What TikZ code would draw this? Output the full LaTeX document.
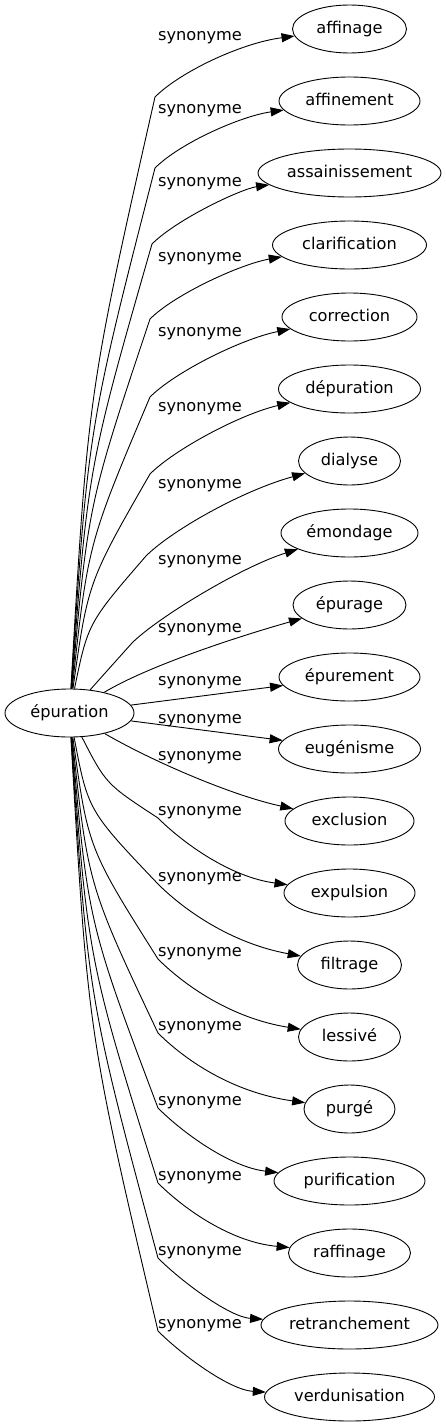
\documentclass[tikz,border=0pt]{standalone}
\usepackage{fontspec}
\setmainfont{DejaVu Sans}
\usetikzlibrary{arrows.meta, shapes.geometric}
\tikzset{>={Triangle[length=13pt, width=9pt]},
  mot/.style={draw, ellipse, line width=0.9pt, inner sep=0pt, minimum height=48pt,
    text height=12pt, text depth=4pt, font=\fontsize{16.2}{19}\selectfont},
  syn/.style={inner sep=0pt, font=\fontsize{16.2}{19}\selectfont},
  lien/.style={->, line width=0.9pt}}

\begin{document}
\begin{tikzpicture}[x=1pt, y=-1pt]
\useasboundingbox (0,0) rectangle (446,1427);
\node[mot, minimum width=129pt] (epuration) at (69.5,713) {épuration};

\node[mot, minimum width=114pt] (affinage) at (349.5,29) {affinage};
\node[mot, minimum width=141pt] (affinement) at (349.5,101) {affinement};
\node[mot, minimum width=183pt] (assainissement) at (349.5,173) {assainissement};
\node[mot, minimum width=154pt] (clarification) at (349.5,245) {clarification};
\node[mot, minimum width=135pt] (correction) at (349.5,317) {correction};
\node[mot, minimum width=142pt] (depuration) at (349.5,389) {dépuration};
\node[mot, minimum width=102pt] (dialyse) at (349.5,461) {dialyse};
\node[mot, minimum width=137pt] (emondage) at (349.5,533) {émondage};
\node[mot, minimum width=113pt] (epurage) at (349.5,605) {épurage};
\node[mot, minimum width=141pt] (epurement) at (349.5,677) {épurement};
\node[mot, minimum width=142pt] (eugenisme) at (349.5,749) {eugénisme};
\node[mot, minimum width=129pt] (exclusion) at (349.5,821) {exclusion};
\node[mot, minimum width=131pt] (expulsion) at (349.5,893) {expulsion};
\node[mot, minimum width=104pt] (filtrage) at (349.5,965) {filtrage};
\node[mot, minimum width=102pt] (lessive) at (349.5,1037) {lessivé};
\node[mot, minimum width=91pt] (purge) at (349.5,1109) {purgé};
\node[mot, minimum width=151pt] (purification) at (349.5,1181) {purification};
\node[mot, minimum width=122pt] (raffinage) at (349.5,1253) {raffinage};
\node[mot, minimum width=177pt] (retranchement) at (349.5,1325) {retranchement};
\node[mot, minimum width=170pt] (verdunisation) at (349.5,1397) {verdunisation};

\node[syn] (s-affinage) at (200,38) {synonyme};
\node[syn] (s-affinement) at (200,111) {synonyme};
\node[syn] (s-assainissement) at (200,184) {synonyme};
\node[syn] (s-clarification) at (200,259) {synonyme};
\node[syn] (s-correction) at (200,334) {synonyme};
\node[syn] (s-depuration) at (200,409) {synonyme};
\node[syn] (s-dialyse) at (200,486) {synonyme};
\node[syn] (s-emondage) at (200,562) {synonyme};
\node[syn] (s-epurage) at (200,630) {synonyme};
\node[syn] (s-epurement) at (200,683) {synonyme};
\node[syn] (s-eugenisme) at (200,721) {synonyme};
\node[syn] (s-exclusion) at (200,758) {synonyme};
\node[syn] (s-expulsion) at (200,813) {synonyme};
\node[syn] (s-filtrage) at (200,879) {synonyme};
\node[syn] (s-lessive) at (200,954) {synonyme};
\node[syn] (s-purge) at (200,1028) {synonyme};
\node[syn] (s-purification) at (200,1103) {synonyme};
\node[syn] (s-raffinage) at (200,1178) {synonyme};
\node[syn] (s-retranchement) at (200,1253) {synonyme};
\node[syn] (s-verdunisation) at (200,1326) {synonyme};

\coordinate (k-affinage) at (155,97);
\coordinate (k-affinement) at (155,168);
\coordinate (k-assainissement) at (152,244);
\coordinate (k-clarification) at (150,319);
\coordinate (k-correction) at (150,397);
\coordinate (k-depuration) at (150,474);
\coordinate (k-dialyse) at (146,556);
\coordinate (k-emondage) at (132,643);
\coordinate (k-expulsion) at (158,818);
\coordinate (k-filtrage) at (158,884);
\coordinate (k-lessive) at (158,959);
\coordinate (k-purge) at (158,1033);
\coordinate (k-purification) at (158,1108);
\coordinate (k-raffinage) at (158,1183);
\coordinate (k-retranchement) at (158,1258);
\coordinate (k-verdunisation) at (158,1331);

\draw[lien] (epuration) .. controls (88,393.5) .. (k-affinage) .. controls +(25,-25) and (241,43) .. (affinage);
\draw[lien] (epuration) .. controls (88,429) .. (k-affinement) .. controls +(25,-25) and (241,116) .. (affinement);
\draw[lien] (epuration) .. controls (88,467) .. (k-assainissement) .. controls +(25,-25) and (241,189) .. (assainissement);
\draw[lien] (epuration) .. controls (88,504.5) .. (k-clarification) .. controls +(25,-25) and (241,264) .. (clarification);
\draw[lien] (epuration) .. controls (88,543.5) .. (k-correction) .. controls +(25,-25) and (241,339) .. (correction);
\draw[lien] (epuration) .. controls (88,582) .. (k-depuration) .. controls +(25,-25) and (241,414) .. (depuration);
\draw[lien] (epuration) .. controls (88,623) .. (k-dialyse) .. controls +(25,-25) and (241,491) .. (dialyse);
\draw[lien] (epuration) .. controls (106,672) .. (k-emondage) .. controls +(25,-25) and (241,567) .. (emondage);
\draw[lien] (epuration) .. controls (150,665) and (240,636) .. (epurage);
\draw[lien] (epuration) -- (epurement);
\draw[lien] (epuration) -- (eugenisme);
\draw[lien] (epuration) .. controls (150,760) and (230,795) .. (exclusion);
\draw[lien] (epuration) .. controls (106,784) .. (k-expulsion) .. controls +(25,25) and (230,877) .. (expulsion);
\draw[lien] (epuration) .. controls (88,810.5) .. (k-filtrage) .. controls +(25,25) and (230,943) .. (filtrage);
\draw[lien] (epuration) .. controls (88,848) .. (k-lessive) .. controls +(25,25) and (230,1018) .. (lessive);
\draw[lien] (epuration) .. controls (88,885) .. (k-purge) .. controls +(25,25) and (230,1092) .. (purge);
\draw[lien] (epuration) .. controls (88,922.5) .. (k-purification) .. controls +(25,25) and (230,1167) .. (purification);
\draw[lien] (epuration) .. controls (88,960) .. (k-raffinage) .. controls +(25,25) and (230,1242) .. (raffinage);
\draw[lien] (epuration) .. controls (88,997.5) .. (k-retranchement) .. controls +(25,25) and (230,1317) .. (retranchement);
\draw[lien] (epuration) .. controls (88,1034) .. (k-verdunisation) .. controls +(25,25) and (230,1390) .. (verdunisation);
\end{tikzpicture}
\end{document}
